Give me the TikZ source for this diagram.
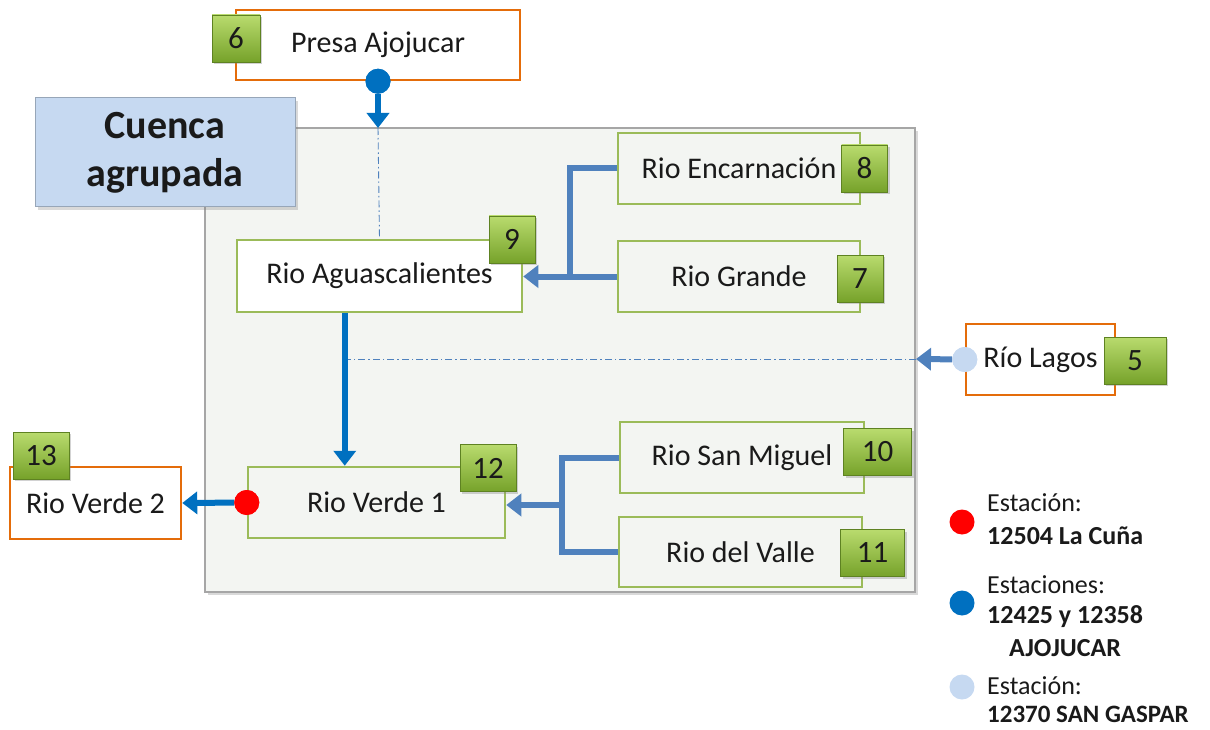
\documentclass[tikz,border=0pt]{standalone}
\usepackage{fontspec}
\setmainfont{Carlito}
\usetikzlibrary{arrows.meta,shadows}

\definecolor{txt}{HTML}{1A1A1A}
\definecolor{verdeB}{HTML}{9BBB59}
\definecolor{naranja}{HTML}{E46C0A}
\definecolor{azulF}{HTML}{0070C0}
\definecolor{azulM}{HTML}{4F81BD}
\definecolor{azulC}{HTML}{C6D9F1}
\definecolor{panelF}{HTML}{F3F5F2}
\definecolor{badgeT}{HTML}{B9DB6E}
\definecolor{badgeB}{HTML}{76A22A}
\definecolor{rojo}{HTML}{FF0000}

\begin{document}
\begin{tikzpicture}[x=1pt, y=-1pt, line join=miter,
  every node/.style={text=txt},
  rio/.style={draw=verdeB, line width=2.5pt, fill=panelF, inner sep=0pt,
    font=\fontsize{30}{36}\selectfont},
  extra/.style={draw=naranja, line width=2.5pt, fill=white, inner sep=0pt,
    font=\fontsize{30}{36}\selectfont},
  badge/.style={draw=badgeB!80!black, line width=0.6pt, top color=badgeT, bottom color=badgeB,
    minimum height=47, inner sep=0pt, font=\fontsize{31}{36}\selectfont,
    drop shadow={opacity=0.35, shadow xshift=2pt, shadow yshift=-2pt}},
  est/.style={circle, inner sep=0pt, minimum size=25},
  flujo/.style={line width=6pt, draw=azulM},
  tip/.style={-{Triangle[length=15pt,width=22pt]}},
  punteo/.style={draw=azulM, line width=0.9pt, dash pattern=on 7pt off 3pt on 1.5pt off 3pt},
  leyenda/.style={anchor=west, inner sep=0pt, font=\fontsize{26}{30}\selectfont}]

  %% ════ panel de la cuenca ════
  \node[draw=black!35, line width=1.5pt, fill=panelF, minimum width=710, minimum height=464,
    inner sep=0pt, drop shadow={opacity=0.3, shadow xshift=3pt, shadow yshift=-3pt}]
    (panel) at (560,360) {};
  \node[draw=azulM!60!black!50, line width=1pt, fill=azulC, minimum width=260, minimum height=109,
    align=center, font=\fontsize{40}{48}\selectfont\bfseries,
    drop shadow={opacity=0.3, shadow xshift=3pt, shadow yshift=-3pt}]
    (cuenca) at (165,152.5) {Cuenca\\agrupada};

  %% ════ cajas ════
  \node[extra, minimum width=284, minimum height=70] (presa) at (378,45) {Presa Ajojucar};
  \node[rio, fill=white, minimum width=285, minimum height=72] (agua) at (379.5,276) {Rio Aguascalientes};
  \node[rio, minimum width=242, minimum height=71] (enc) at (739,168.5) {Rio Encarnación};
  \node[rio, minimum width=242, minimum height=71] (grande) at (739,276.5) {Rio Grande};
  \node[extra, minimum width=149, minimum height=71] (lagos) at (1040.5,359.5) {Río Lagos};
  \node[rio, minimum width=257, minimum height=71] (verde1) at (376.5,502.5) {Rio Verde 1};
  \node[extra, minimum width=171, minimum height=72] (verde2) at (95.5,503) {Rio Verde 2};
  \node[rio, minimum width=244, minimum height=71] (sanm) at (742,457.5) {Rio San Miguel};
  \node[rio, minimum width=243, minimum height=70] (valle) at (740.5,552) {Rio del Valle};

  %% ════ numeros ════
  \node[badge, minimum width=48] (b6) at (236,38.5) {6};
  \node[badge, minimum width=46] (b9) at (512,239.5) {9};
  \node[badge, minimum width=46] (b8) at (864.5,168.5) {8};
  \node[badge, minimum width=46] (b7) at (860,278.5) {7};
  \node[badge, minimum width=62] (b5) at (1135,360.5) {5};
  \node[badge, minimum width=56] (b12) at (488,468) {12};
  \node[badge, minimum width=56] (b13) at (41,455.5) {13};
  \node[badge, minimum width=68] (b10) at (877.5,452) {10};
  \node[badge, minimum width=64] (b11) at (872.5,553) {11};

  %% ════ estaciones ════
  \node[est, fill=azulF] (estP) at (presa.south) {};
  \node[est, fill=azulC] (estL) at (lagos.west) {};
  \node[est, fill=rojo] (estR) at (verde1.west) {};

  \coordinate (ptop) at (378,128);
  \coordinate (pder) at (916,359);
  \coordinate (pizq) at (346,359);
  \coordinate (j1) at (570,277);
  \coordinate (j2) at (562,505);

  %% ════ conexiones ════
  \draw[punteo] (ptop) -- (agua.north);
  \draw[punteo] (pder) -- (pizq);
  \draw[flujo, draw=azulF, tip] (estP) -- (ptop);
  \draw[flujo, tip] (estL) -- (pder);
  \draw[flujo] (enc.west) -| (j1);
  \draw[flujo, tip] (grande.west) -- (grande.west -| agua.east);
  \draw[flujo, draw=azulF, tip] ([xshift=109pt]agua.south west) -- ([xshift=98pt]verde1.north west);
  \draw[flujo, draw=azulF, tip] (estR) -- (verde2.east);
  \draw[flujo] (sanm.west) -| (j2) |- (valle.west);
  \draw[flujo, tip] (j2) -- (j2 -| verde1.east);
  \node[est, fill=azulF] at (estP) {};
  \node[est, fill=azulC] at (estL) {};
  \node[est, fill=rojo] at (estR) {};

  %% ════ leyenda ════
  \node[est, fill=rojo] (leyR) at (962,522) {};
  \node[est, fill=azulF] (leyA) at (962,603) {};
  \node[est, fill=azulC] (leyC) at (962,687) {};
  \node[leyenda] (t1) at (987,503) {Estación:};
  \node[leyenda, font=\fontsize{26}{30}\selectfont\bfseries] (t2) at (987,536) {12504 La Cuña};
  \node[leyenda] (t3) at (987,585) {Estaciones:};
  \node[leyenda, font=\fontsize{26}{30}\selectfont\bfseries] (t4) at (987,617) {12425 y 12358};
  \node[leyenda, font=\fontsize{26}{30}\selectfont\bfseries] (t5) at (1009,648) {AJOJUCAR};
  \node[leyenda] (t6) at (987,686) {Estación:};
  \node[leyenda, font=\fontsize{25}{30}\selectfont\bfseries] (t7) at (987,714) {12370 SAN GASPAR};

  \pgfresetboundingbox
  \path[use as bounding box] (0,0) rectangle (1210,730);
\end{tikzpicture}
\end{document}
